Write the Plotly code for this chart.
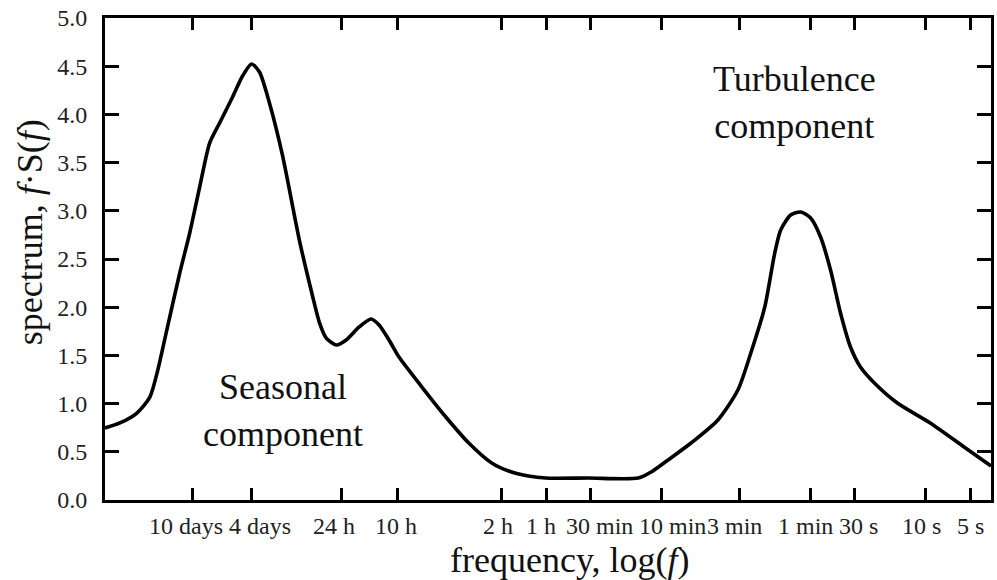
import math
import plotly.graph_objects as go

# Spectrum curve: log10 of frequency (Hz) and f*S(f)
log10_freq = [-6.5271, -6.4264, -6.3123, -6.2251, -6.1714, -6.1110, -6.0237,
              -5.9566, -5.8895, -5.8224, -5.7553, -5.6680, -5.6009, -5.5405,
              -5.4868, -5.4197, -5.3325, -5.2184, -5.1311, -5.0842, -5.0372,
              -4.9701, -4.9029, -4.8157, -4.7352, -4.6815, -4.6144, -4.5472,
              -4.3929, -4.2318, -4.0774, -3.9231, -3.7888, -3.6748, -3.5607,
              -3.2721, -2.9365, -2.8493, -2.7352, -2.5808, -2.3996, -2.2654,
              -2.1781, -2.0842, -2.0170, -1.9768, -1.9097, -1.8425, -1.7754,
              -1.7083, -1.6412, -1.5741, -1.5070, -1.4399, -1.3459, -1.1915,
              -0.9701, -0.7419, -0.5607]
spectrum = [0.747, 0.799, 0.902, 1.068, 1.349, 1.763, 2.355,
            2.770, 3.247, 3.703, 3.911, 4.181, 4.398, 4.523,
            4.440, 4.118, 3.579, 2.697, 2.127, 1.846, 1.680,
            1.608, 1.660, 1.795, 1.878, 1.815, 1.660, 1.483,
            1.172, 0.861, 0.591, 0.384, 0.290, 0.249, 0.228,
            0.228, 0.228, 0.290, 0.415, 0.591, 0.830, 1.141,
            1.525, 2.002, 2.562, 2.801, 2.956, 2.988, 2.925,
            2.728, 2.386, 1.940, 1.587, 1.380, 1.214, 1.006,
            0.799, 0.550, 0.353]
freq_hz = [10 ** v for v in log10_freq]

# x-axis ticks: periods (seconds) and their labels
tick_periods_s = [864000, 345600, 86400, 36000, 7200, 3600, 1800, 600, 180, 60, 30, 10, 5]
tick_labels = ["10 days", "4 days", "24 h", "10 h", "2 h", "1 h", "30 min",
               "10 min", "3 min", "1 min", "30 s", "10 s", "5 s"]
tick_freqs = [1.0 / p for p in tick_periods_s]
# small horizontal nudges of the labels (pixels), as in the original layout
label_nudge_px = [-7, 8, -7, -2, -3, -5, 9, 11, -5, -5, 4, -4, 0]

# y-axis ticks
y_ticks = [0.0, 0.5, 1.0, 1.5, 2.0, 2.5, 3.0, 3.5, 4.0, 4.5, 5.0]

FONT = "Liberation Serif"
W, H = 997, 580
L, R, T, B = 105, 3, 18, 80
pw, ph = W - L - R, H - T - B

def py_to_paper(y):
    return (H - B - y) / ph

def px_to_paper(x):
    return (x - L) / pw

fig = go.Figure()
fig.add_trace(go.Scatter(
    x=freq_hz, y=spectrum, mode="lines",
    line=dict(color="black", width=3.6, shape="spline", smoothing=0.7),
    hoverinfo="skip", showlegend=False))

axis_common = dict(
    showline=True, linecolor="black", linewidth=3, mirror="allticks",
    ticks="inside", tickcolor="black", tickwidth=2.5,
    showgrid=False, zeroline=False,
    tickfont=dict(family=FONT, size=24, color="#222"),
)

fig.update_xaxes(type="log", range=[-6.5271, -0.5607],
                 tickmode="array", tickvals=tick_freqs, ticktext=tick_labels,
                 ticklen=12, showticklabels=False, **axis_common)
fig.update_yaxes(range=[0, 5], tickmode="array", tickvals=y_ticks,
                 ticktext=[f"{v:.1f}" for v in y_ticks],
                 ticklen=14, ticklabelstandoff=10, **axis_common)

# x tick labels placed under their ticks (log axis: annotation x in log10 units)
for f, lab, dx in zip(tick_freqs, tick_labels, label_nudge_px):
    fig.add_annotation(text=lab, x=math.log10(f), xref="x",
                       y=py_to_paper(526), yref="paper",
                       xshift=dx, showarrow=False, xanchor="center", yanchor="middle",
                       font=dict(family=FONT, size=24, color="#222"))

annots = [
    ("frequency, log(<i>f</i>)", 572, 560, 0),
    ("spectrum, <i>f</i>·S(<i>f</i>)", 30, 232, -90),
    ("Seasonal<br>component", 284, 410, 0),
    ("Turbulence<br>component", 797, 102, 0),
]
for text, x, y, ang in annots:
    fig.add_annotation(text=text, x=px_to_paper(x), y=py_to_paper(y),
                       xref="paper", yref="paper",
                       showarrow=False, textangle=ang,
                       font=dict(family=FONT, size=36, color="#111"),
                       xanchor="center", yanchor="middle")

fig.update_layout(width=W, height=H, margin=dict(l=L, r=R, t=T, b=B),
                  plot_bgcolor="white", paper_bgcolor="white")

fig.write_html("out.html")
